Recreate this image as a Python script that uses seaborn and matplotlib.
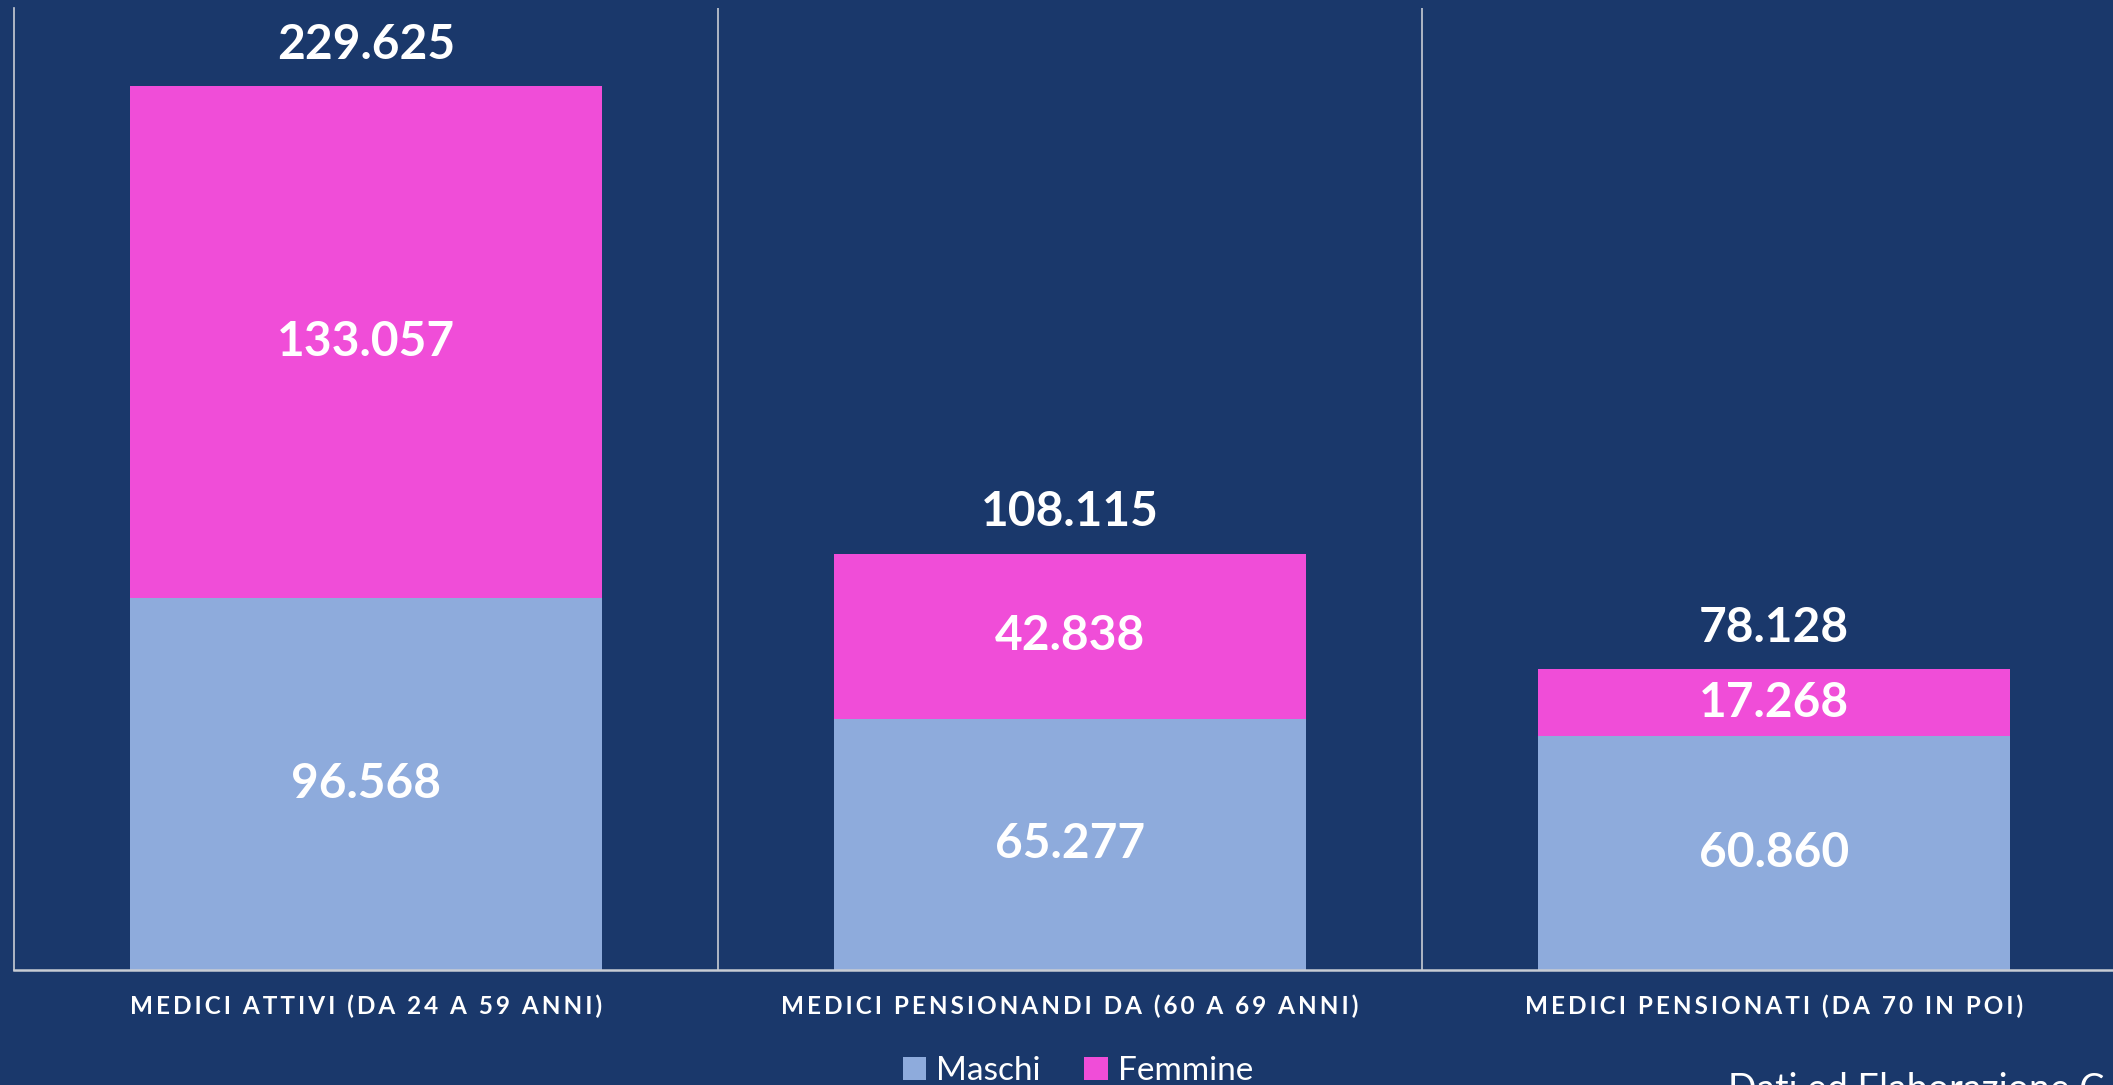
import numpy as np
import pandas as pd
import seaborn as sns
import matplotlib.pyplot as plt
from matplotlib.patches import Patch

categories = [
    "MEDICI ATTIVI (DA 24 A 59 ANNI)",
    "MEDICI PENSIONANDI DA (60 A 69 ANNI)",
    "MEDICI PENSIONATI (DA 70 IN POI)",
]
maschi = [96.568, 65.277, 60.860]
femmine = [133.057, 42.838, 17.268]
series_names = ["Maschi", "Femmine"]

BG = "#1A386B"
C_MASCHI = "#8EABDC"
C_FEMMINE = "#F04DD8"
LINE = "#C8CCD4"


def fmt_it(v):
    return f"{v:.3f}"


def spaced(s):
    # the reference letter-spaces the category labels
    return "\u2009".join(s)


def main():
    sns.set_theme(style="white")
    plt.rcParams["font.family"] = ["Lato", "DejaVu Sans"]

    df = pd.DataFrame({"categoria": categories, "Maschi": maschi, "Femmine": femmine})
    df["Totale"] = df["Maschi"] + df["Femmine"]

    fig = plt.figure(figsize=(21.13, 10.85), dpi=100)
    fig.patch.set_facecolor(BG)
    W, H = 2113, 1085
    ax = fig.add_axes([14 / W, (H - 970) / H, 2112 / W, 962 / H])
    ax.set_facecolor(BG)

    # totals drawn in the Femmine colour, Maschi overlaid from the base
    sns.barplot(data=df, x="categoria", y="Totale", color=C_FEMMINE, width=0.67,
                saturation=1, ax=ax, linewidth=0)
    sns.barplot(data=df, x="categoria", y="Maschi", color=C_MASCHI, width=0.67,
                saturation=1, ax=ax, linewidth=0)

    ax.set_ylim(0, 250)
    ax.set_xlim(-0.5, 2.5)
    ax.set_yticks([])
    ax.set_xlabel("")
    ax.set_ylabel("")
    for s in ["top", "right"]:
        ax.spines[s].set_visible(False)
    ax.spines["left"].set_color(LINE)
    ax.spines["bottom"].set_color(LINE)
    ax.spines["left"].set_linewidth(1.2)
    ax.spines["bottom"].set_linewidth(1.8)
    for xb in [0.5, 1.5]:
        ax.axvline(xb, color=LINE, lw=1.2, zorder=0)

    ax.set_xticks(range(len(categories)))
    ax.set_xticklabels([spaced(c) for c in categories])
    ax.tick_params(axis="x", length=0, pad=18, colors="white")
    for lab in ax.get_xticklabels():
        lab.set_fontsize(17.5)
        lab.set_fontweight("bold")
        lab.set_color("white")

    for i, row in df.iterrows():
        m, f, t = row["Maschi"], row["Femmine"], row["Totale"]
        ax.text(i, m / 2, fmt_it(m), ha="center", va="center", color="white",
                fontsize=34.5, fontweight="bold")
        ax.text(i, m + f / 2, fmt_it(f), ha="center", va="center", color="white",
                fontsize=34.5, fontweight="bold")
        ax.text(i, t + 10.8, fmt_it(t), ha="center", va="center", color="white",
                fontsize=34.5, fontweight="bold")

    handles = [Patch(facecolor=C_MASCHI, edgecolor="none"),
               Patch(facecolor=C_FEMMINE, edgecolor="none")]
    fig.legend(handles, series_names, loc="center", bbox_to_anchor=(1078 / W, 1 - 1071 / H),
               ncol=2, frameon=False, fontsize=24, labelcolor="white",
               handlelength=0.7, handleheight=0.7, handletextpad=0.3, columnspacing=1.3)

    fig.text(1728 / W, 1 - 1072 / H, "Dati ed Elaborazione C", ha="left", va="top",
             color="white", fontsize=27)

    fig.savefig("out.png", dpi=100, facecolor=BG)
    plt.close(fig)


if __name__ == "__main__":
    main()
